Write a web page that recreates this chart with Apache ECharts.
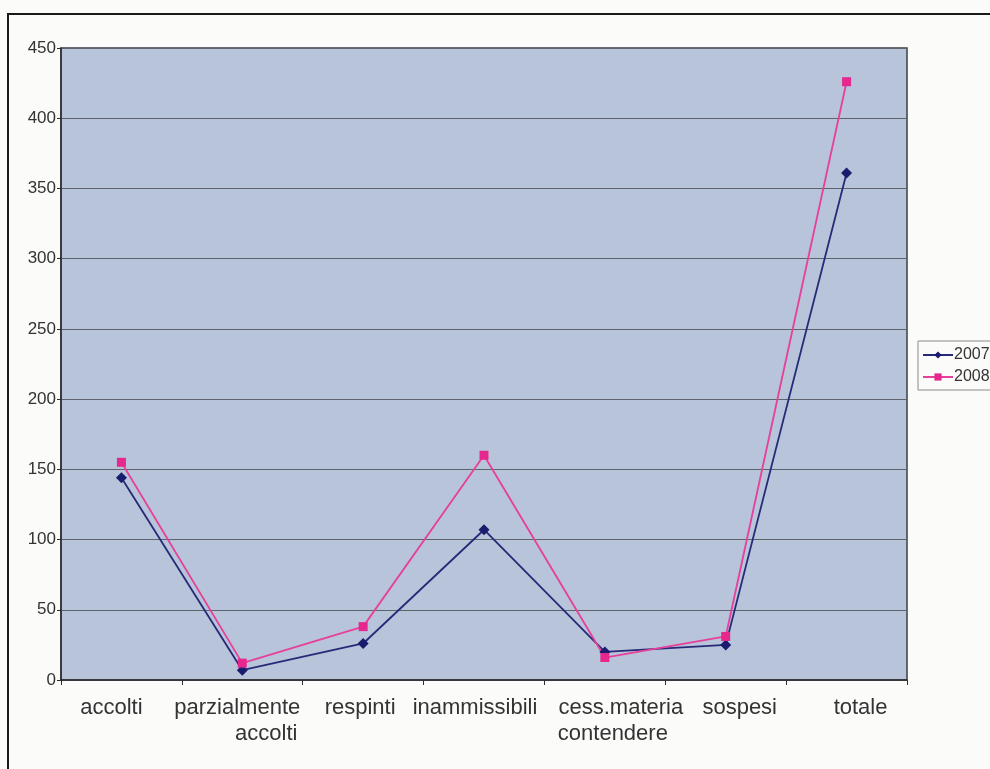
<!DOCTYPE html>
<html>
<head>
<meta charset="utf-8">
<script src="https://cdn.jsdelivr.net/npm/echarts@6/dist/echarts.min.js"></script>
<style>
  html, body { margin: 0; padding: 0; background: #fbfbfa; }
  #chart { width: 990px; height: 769px; }
</style>
</head>
<body>
<div id="chart"></div>
<script>
// Esiti dei ricorsi per tipologia, confronto 2007 / 2008
const categories = ['accolti', 'parzialmente\naccolti', 'respinti', 'inammissibili', 'cess.materia\ncontendere', 'sospesi', 'totale'];
const values2007 = [144, 7, 26, 107, 20, 25, 361];
const values2008 = [155, 12, 38, 160, 16, 31, 426];
const yTicks = { min: 0, max: 450, step: 50 };

// horizontal nudge (px) for each line of each category label
const labelNudge = [[-10], [-5, 24], [-3], [-9], [16, 8], [14], [14]];

const FONT = 'Liberation Sans, Arial, sans-serif';
const rich = {};
const nudgeKey = (s) => 'n' + (s < 0 ? 'm' + (-s) : 'p' + s);
labelNudge.flat().forEach((s) => {
  rich[nudgeKey(s)] = {
    fontSize: 22, fontFamily: FONT, color: '#333', align: 'center', lineHeight: 26,
    padding: s >= 0 ? [0, 0, 0, 2 * s] : [0, -2 * s, 0, 0]
  };
});

const chart = echarts.init(document.getElementById('chart'), null, { renderer: 'canvas' });

chart.setOption({
  animation: false,
  backgroundColor: '#fbfbfa',
  textStyle: { fontFamily: FONT },
  graphic: [{
    type: 'rect',
    shape: { x: 8, y: 14, width: 1100, height: 900 },
    style: { fill: 'none', stroke: '#1a1a1a', lineWidth: 2 },
    silent: true
  }],
  grid: {
    show: true,
    left: 61, top: 48, right: 83, bottom: 89,
    backgroundColor: '#b7c4d9',
    borderColor: '#3c3f45',
    borderWidth: 1.5
  },
  legend: {
    orient: 'vertical',
    left: 918, top: 341,
    padding: [6, 4, 5, 4],
    itemGap: 6,
    itemWidth: 30,
    itemHeight: 9,
    borderColor: '#8a8a8a',
    borderWidth: 1,
    backgroundColor: '#fbfbfa',
    textStyle: { fontSize: 16, color: '#333', padding: [0, 0, 0, -4] },
    data: ['2007', '2008']
  },
  xAxis: {
    type: 'category',
    data: categories,
    boundaryGap: true,
    axisLine: { lineStyle: { color: '#2a2c30', width: 1.5 } },
    axisTick: { show: true, alignWithLabel: false, length: 5, lineStyle: { color: '#2a2c30' } },
    axisLabel: {
      interval: 0, fontSize: 22, color: '#333', margin: 15, lineHeight: 26,
      formatter: (value, idx) => value.split('\n')
        .map((line, k) => '{' + nudgeKey(labelNudge[idx][k] || 0) + '|' + line + '}')
        .join('\n'),
      rich: rich
    },
    splitLine: { show: false }
  },
  yAxis: {
    type: 'value',
    min: yTicks.min, max: yTicks.max, interval: yTicks.step,
    axisLine: { show: true, lineStyle: { color: '#2a2c30', width: 1.5 } },
    axisTick: { show: true, length: 4, lineStyle: { color: '#2a2c30' } },
    axisLabel: { fontSize: 17, color: '#333', margin: 5 },
    splitLine: { show: true, lineStyle: { color: '#5e636b', width: 1 } }
  },
  series: [
    {
      name: '2007', type: 'line', data: values2007,
      symbol: 'diamond', symbolSize: 11,
      itemStyle: { color: '#1a1d6e' },
      lineStyle: { color: '#262a78', width: 1.8 }
    },
    {
      name: '2008', type: 'line', data: values2008,
      symbol: 'rect', symbolSize: 9,
      itemStyle: { color: '#e6288e' },
      lineStyle: { color: '#e6409a', width: 1.8 }
    }
  ]
});
</script>
</body>
</html>
